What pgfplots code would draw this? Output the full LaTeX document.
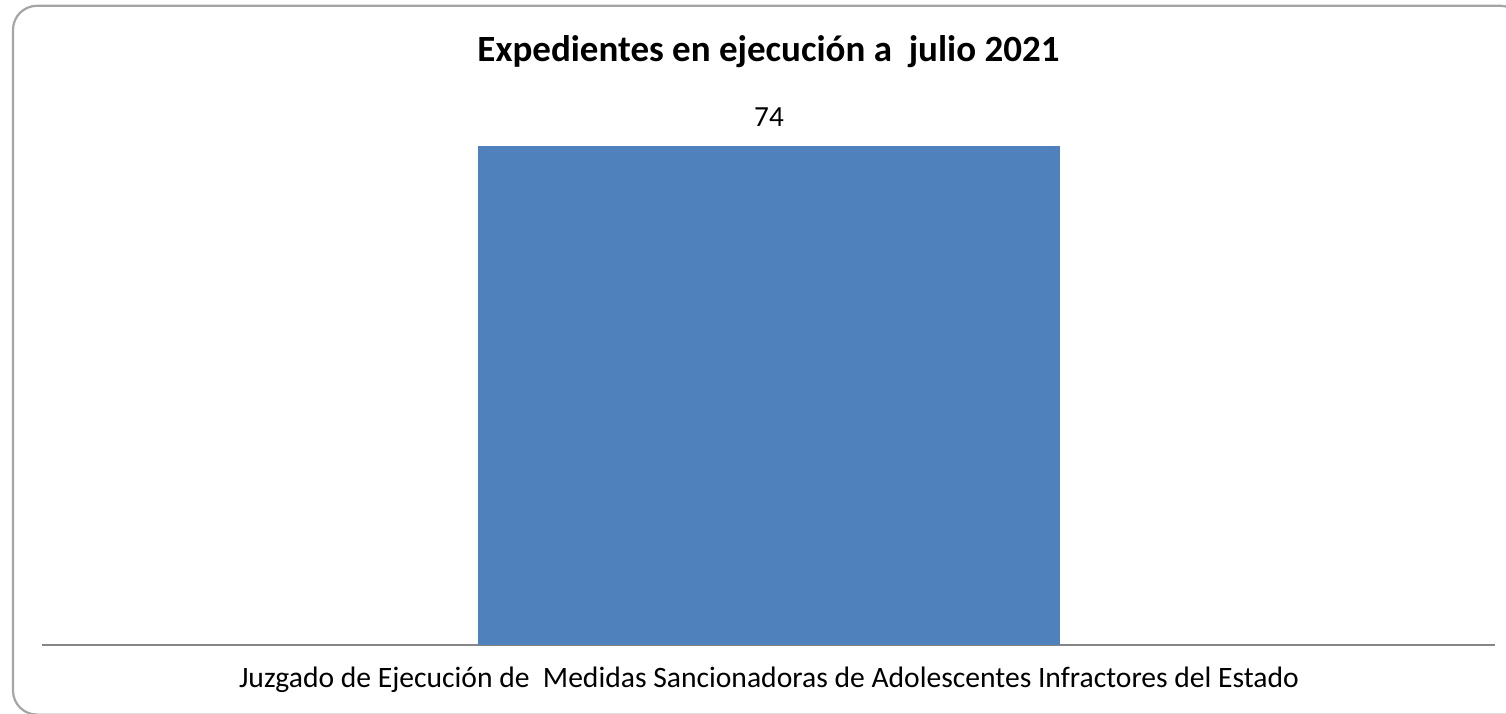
\documentclass[border=0pt]{standalone}
\usepackage{pgfplots}
\pgfplotsset{compat=1.18}
\usepackage{fontspec}
\setmainfont{Carlito}
\definecolor{barblue}{RGB}{79,129,189}
\definecolor{axisgray}{RGB}{134,134,134}
\definecolor{framegray}{RGB}{165,165,165}
\begin{document}
\begin{tikzpicture}
% page 1506x713 px at 0.5pt per px
\path[use as bounding box] (0,0) rectangle (753pt,356.5pt);
% chart frame: only the part that lies inside the page
\draw[framegray, line width=1.1pt, rounded corners=12pt] (753pt,-0.8pt) -- (6.5pt,-0.8pt) -- (6.5pt,353.6pt) -- (750.5pt,353.6pt);
\draw[framegray, line width=1.1pt] (750pt,353.6pt) arc[start angle=90, end angle=75, radius=12pt];
\node[font=\bfseries\fontsize{18.5}{22}\selectfont, anchor=base, inner sep=0pt] at (384.25pt,325.6pt) {Expedientes en ejecución a\ \ julio 2021};
\begin{axis}[
  at={(21pt,34pt)}, anchor=south west,
  width=726.5pt, height=249.5pt, scale only axis,
  xmin=-727, xmax=726, ymin=0, ymax=74,
  axis x line=bottom, axis y line=none,
  axis line style={-, axisgray, line width=1pt},
  xtick={0}, xticklabels={Juzgado de Ejecución de\ \ Medidas Sancionadoras de Adolescentes Infractores del Estado},
  major tick length=0pt, ytick=\empty,
  xticklabel style={font=\fontsize{14.8}{17}\selectfont, anchor=base, inner sep=0pt, yshift=-21pt},
  /pgf/number format/assume math mode=true,
  clip=false,
  nodes near coords,
  every node near coord/.append style={font=\fontsize{14.6}{17}\selectfont, black, anchor=base, inner sep=0pt, yshift=10pt},
]
\addplot[ybar, bar width=291pt, fill=barblue, draw=none] coordinates {(0,74)};
\end{axis}
\end{tikzpicture}
\end{document}
